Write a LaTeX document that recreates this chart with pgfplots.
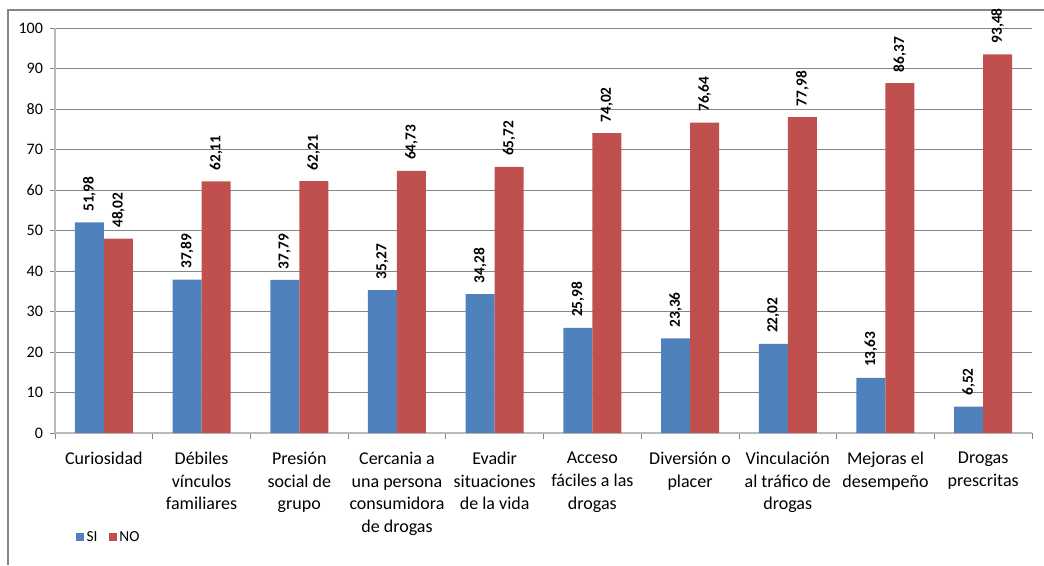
\documentclass[border=0pt]{standalone}
\usepackage{pgfplots}
\pgfplotsset{compat=1.18}
\usepackage{fontspec}
\setmainfont{Carlito}
\definecolor{siblue}{HTML}{4F81BD}
\definecolor{nored}{HTML}{C0504D}
\definecolor{gridgray}{HTML}{868686}
\definecolor{axgray}{HTML}{BBBBBB}
\begin{document}
\begin{tikzpicture}
\useasboundingbox (0,0) rectangle (783pt,423.75pt);
\draw[gridgray, line width=0.9pt] (6pt,0) -- (6pt,416.25pt) -- (783pt,416.25pt);
\begin{axis}[
  at={(41.25pt,99pt)}, anchor=south west,
  scale only axis, width=732.75pt, height=303.75pt,
  ymin=0, ymax=100, ytick={0,10,...,100},
  xmin=-0.5, xmax=9.5,
  xtick={0,...,9},
  xticklabels={Curiosidad, {Débiles\\vínculos\\familiares}, {Presión\\social de\\grupo}, {Cercania a\\una persona\\consumidora\\de drogas}, {Evadir\\situaciones\\de la vida}, {Acceso\\fáciles a las\\drogas}, {Diversión o\\placer}, {Vinculación\\al tráfico de\\drogas}, {Mejoras el\\desempeño}, {Drogas\\prescritas}},
  minor xtick={-0.5,0.5,...,9.5},
  major x tick style={draw=none},
  tick align=outside,
  major tick length=4pt, minor tick length=4.5pt,
  every tick/.style={gridgray, line width=0.6pt},
  ymajorgrids, grid style={gridgray, line width=0.6pt},
  axis x line*=bottom, axis y line*=left,
  axis line style={axgray, line width=0.9pt, -},
  xticklabel style={align=center, font=\fontsize{13.5}{16.9}\selectfont, yshift=-7pt},
  yticklabel style={font=\fontsize{12}{14}\selectfont, xshift=-1.5pt},
  /pgf/number format/assume math mode=true,
  ybar=0pt, bar width=21.75pt,
  nodes near coords,
  nodes near coords style={rotate=90, anchor=west, inner xsep=8pt, inner ysep=0pt,
    font=\bfseries\fontsize{11.5}{13}\selectfont,
    /pgf/number format/.cd, use comma, fixed, precision=2, fixed zerofill, assume math mode=true},
  legend style={at={(axis description cs:0.017,-0.257)}, anchor=west, draw=none, fill=none,
    legend columns=2, font=\fontsize{11.5}{13}\selectfont,
    /tikz/every even column/.append style={column sep=6.5pt}},
  legend image code/.code={\fill[#1] (0pt,-3pt) rectangle (6pt,3pt);},
]
\addplot[fill=siblue, draw=none] coordinates {(0,51.98) (1,37.89) (2,37.79) (3,35.27) (4,34.28) (5,25.98) (6,23.36) (7,22.02) (8,13.63) (9,6.52)};
\addplot[fill=nored, draw=none] coordinates {(0,48.02) (1,62.11) (2,62.21) (3,64.73) (4,65.72) (5,74.02) (6,76.64) (7,77.98) (8,86.37) (9,93.48)};
\legend{SI, NO}
\end{axis}
\end{tikzpicture}
\end{document}
